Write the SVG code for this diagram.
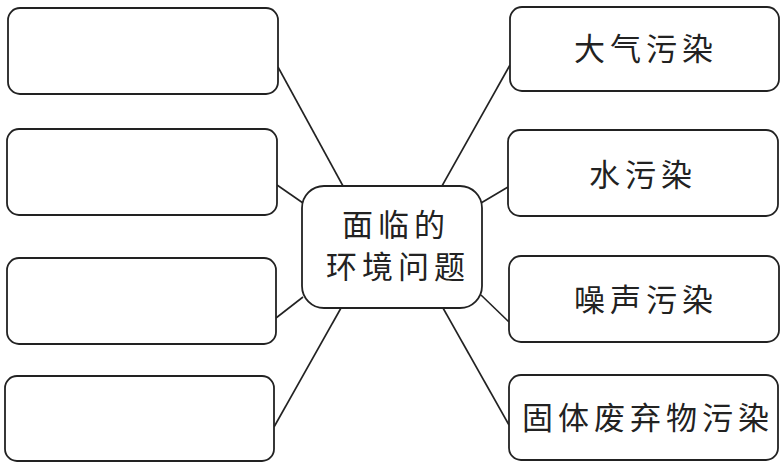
<svg xmlns="http://www.w3.org/2000/svg" width="780" height="467" viewBox="0 0 780 467">
<style>
.box{fill:#fff;stroke:#222;stroke-width:1.8}
.ln{stroke:#222;stroke-width:1.6;fill:none}
.t{font-family:"Noto Sans CJK SC","Noto Sans CJK JP",sans-serif;font-size:31px;fill:#222;text-anchor:middle;letter-spacing:5px}
</style>
<rect width="780" height="467" fill="#fff"/>
<g id="connectors">
<line class="ln" x1="278" y1="67" x2="343" y2="186"/>
<line class="ln" x1="277" y1="185" x2="303" y2="203"/>
<line class="ln" x1="276" y1="318" x2="303" y2="297"/>
<line class="ln" x1="274" y1="427" x2="341" y2="308"/>
<line class="ln" x1="442" y1="186" x2="510" y2="65"/>
<line class="ln" x1="481" y1="203" x2="508" y2="187"/>
<line class="ln" x1="481" y1="295" x2="509" y2="322"/>
<line class="ln" x1="443" y1="308" x2="509" y2="425"/>
</g>
<g id="left1"><rect class="box" x="8" y="8" width="270" height="86" rx="12"/></g>
<g id="left2"><rect class="box" x="7" y="129" width="270" height="86" rx="12"/></g>
<g id="left3"><rect class="box" x="7" y="258" width="269" height="86" rx="12"/></g>
<g id="left4"><rect class="box" x="5" y="376" width="269" height="85" rx="12"/></g>
<g id="center"><rect class="box" x="302" y="186" width="180" height="122" rx="22"/>
<text class="t" x="396" y="236">面临的</text>
<text class="t" x="398" y="278">环境问题</text></g>
<g id="right1"><rect class="box" x="510" y="7" width="269" height="84" rx="12"/>
<text class="t" x="646" y="60">大气污染</text></g>
<g id="right2"><rect class="box" x="508" y="130" width="270" height="86" rx="12"/>
<text class="t" x="643" y="186">水污染</text></g>
<g id="right3"><rect class="box" x="509" y="256" width="270" height="86" rx="12"/>
<text class="t" x="646" y="311">噪声污染</text></g>
<g id="right4"><rect class="box" x="509" y="375" width="269" height="85" rx="12"/>
<text class="t" x="648" y="429">固体废弃物污染</text></g>
</svg>
